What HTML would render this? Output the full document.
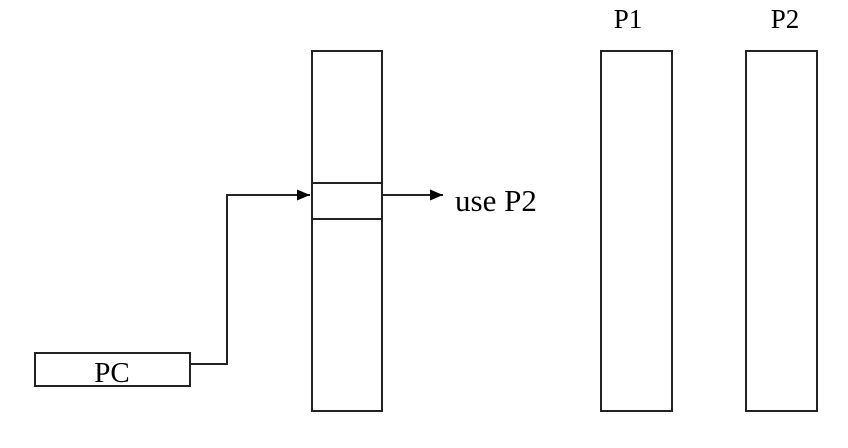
<!DOCTYPE html>
<html><head><style>body{margin:0;background:#fff}</style></head><body>
<svg width="848" height="448" xmlns="http://www.w3.org/2000/svg" style="display:block">
<defs><marker id="a" markerWidth="13" markerHeight="11" refX="13" refY="5.5" orient="auto" markerUnits="userSpaceOnUse"><path d="M0,0L13,5.5L0,11z" fill="#000"/></marker></defs>
<g fill="none" stroke="#222" stroke-width="2">
<rect x="312" y="51" width="70" height="360"/>
<line x1="312" y1="183" x2="382" y2="183"/>
<line x1="312" y1="219" x2="382" y2="219"/>
<rect x="601" y="51" width="71" height="360"/>
<rect x="746" y="51" width="71" height="360"/>
<rect x="35" y="353" width="155" height="33"/>
<polyline points="190,364 227,364 227,195 310,195" marker-end="url(#a)"/>
<line x1="382" y1="195" x2="443" y2="195" marker-end="url(#a)"/>
</g>
<g font-family="Liberation Serif, serif" fill="#000">
<text x="455" y="211" font-size="31">use P2</text>
<text x="628" y="28" font-size="27" text-anchor="middle">P1</text>
<text x="785" y="28" font-size="27" text-anchor="middle">P2</text>
<text x="112" y="382" font-size="29" text-anchor="middle">PC</text>
</g>
</svg>
</body></html>
